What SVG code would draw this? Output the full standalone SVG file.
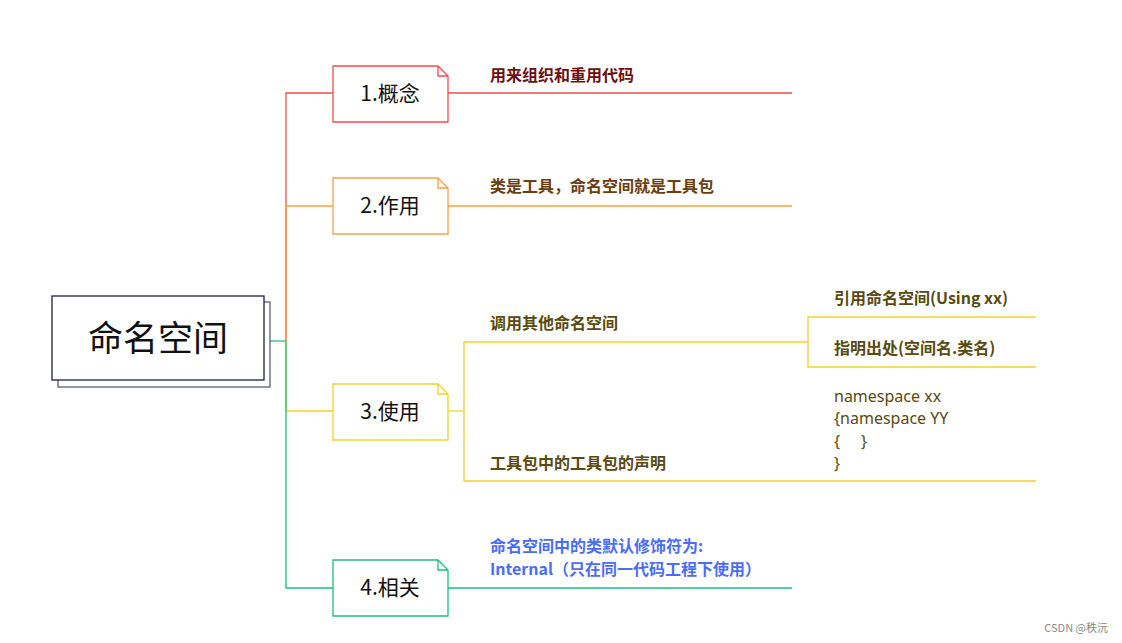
<svg xmlns="http://www.w3.org/2000/svg" width="1122" height="643" viewBox="0 0 1122 643">
<style>
.n{fill:#fff;stroke-width:1.3}
.t{font-family:"Noto Sans CJK SC","Noto Sans",sans-serif;font-size:21px;fill:#111}
.l{font-family:"Noto Sans CJK SC",sans-serif;font-size:16px;font-weight:bold}
.c{font-family:"Noto Sans","Noto Sans CJK SC",sans-serif;font-size:16px;fill:#5a4a10}
line,polyline{fill:none;stroke-width:1.3}
</style>
<rect width="1122" height="643" fill="#fff"/>
<g id="connectors">
<line x1="270" y1="341" x2="286" y2="341" stroke="#1dbf7e"/>
<polyline points="286,341 286,93 333,93" stroke="#f24d4d"/>
<polyline points="286,341 286,206 333,206" stroke="#f9a04a"/>
<polyline points="286,341 286,411 333,411" stroke="#f5d22a"/>
<polyline points="286,341 286,588 333,588" stroke="#1dbf7e"/>
<line x1="448" y1="93" x2="792" y2="93" stroke="#f24d4d"/>
<line x1="448" y1="206" x2="792" y2="206" stroke="#f9a04a"/>
<polyline points="448,411 464,411" stroke="#f5d22a"/>
<polyline points="808,342 464,342 464,481 1036,481" stroke="#f5d22a"/>
<polyline points="1036,317 808,317 808,367 1036,367" stroke="#f5d22a"/>
<line x1="448" y1="588" x2="792" y2="588" stroke="#1dbf7e"/>
</g>
<g id="root">
<rect x="58" y="302" width="212" height="85" fill="#fff" stroke="#5a5e78" stroke-width="1.3"/>
<rect x="52" y="296" width="212" height="84" fill="#fff" stroke="#1b1f3b" stroke-width="1.3"/>
<text x="158" y="351" text-anchor="middle" class="t" style="font-size:35px" fill="#1b1f3b">命名空间</text>
</g>
<g id="n1"><path class="n" stroke="#f24d4d" d="M333,66H438L448,76V122H333Z M438,66V76H448"/><text class="t" x="390" y="101" text-anchor="middle">1.概念</text>
<text class="l" x="490" y="81" fill="#6b0f0f">用来组织和重用代码</text></g>
<g id="n2"><path class="n" stroke="#f9a04a" d="M333,178H438L448,188V234H333Z M438,178V188H448"/><text class="t" x="390" y="213" text-anchor="middle">2.作用</text>
<text class="l" x="490" y="192" fill="#6b3d0f">类是工具，命名空间就是工具包</text></g>
<g id="n3"><path class="n" stroke="#f5d22a" d="M333,384H438L448,394V440H333Z M438,384V394H448"/><text class="t" x="390" y="419" text-anchor="middle">3.使用</text>
<text class="l" x="490" y="329" fill="#5a4a10">调用其他命名空间</text>
<text class="l" x="834" y="304" fill="#5a4a10">引用命名空间(Using xx)</text>
<text class="l" x="834" y="354" fill="#5a4a10">指明出处(空间名.类名)</text>
<text class="l" x="490" y="469" fill="#5a4a10">工具包中的工具包的声明</text>
<text class="c" x="834" y="402">namespace xx</text>
<text class="c" x="834" y="424">{namespace YY</text>
<text class="c" x="834" y="447" xml:space="preserve">{     }</text>
<text class="c" x="834" y="469">}</text></g>
<g id="n4"><path class="n" stroke="#1dbf7e" d="M333,560H438L448,570V616H333Z M438,560V570H448"/><text class="t" x="390" y="595" text-anchor="middle">4.相关</text>
<text class="l" x="490" y="552" fill="#4a6cf7">命名空间中的类默认修饰符为:</text>
<text class="l" x="490" y="575" fill="#4a6cf7">Internal（只在同一代码工程下使用）</text></g>
<text x="1108" y="632" text-anchor="end" font-family="Noto Sans CJK SC,sans-serif" font-size="11" fill="#888">CSDN @秩沅</text>
</svg>
